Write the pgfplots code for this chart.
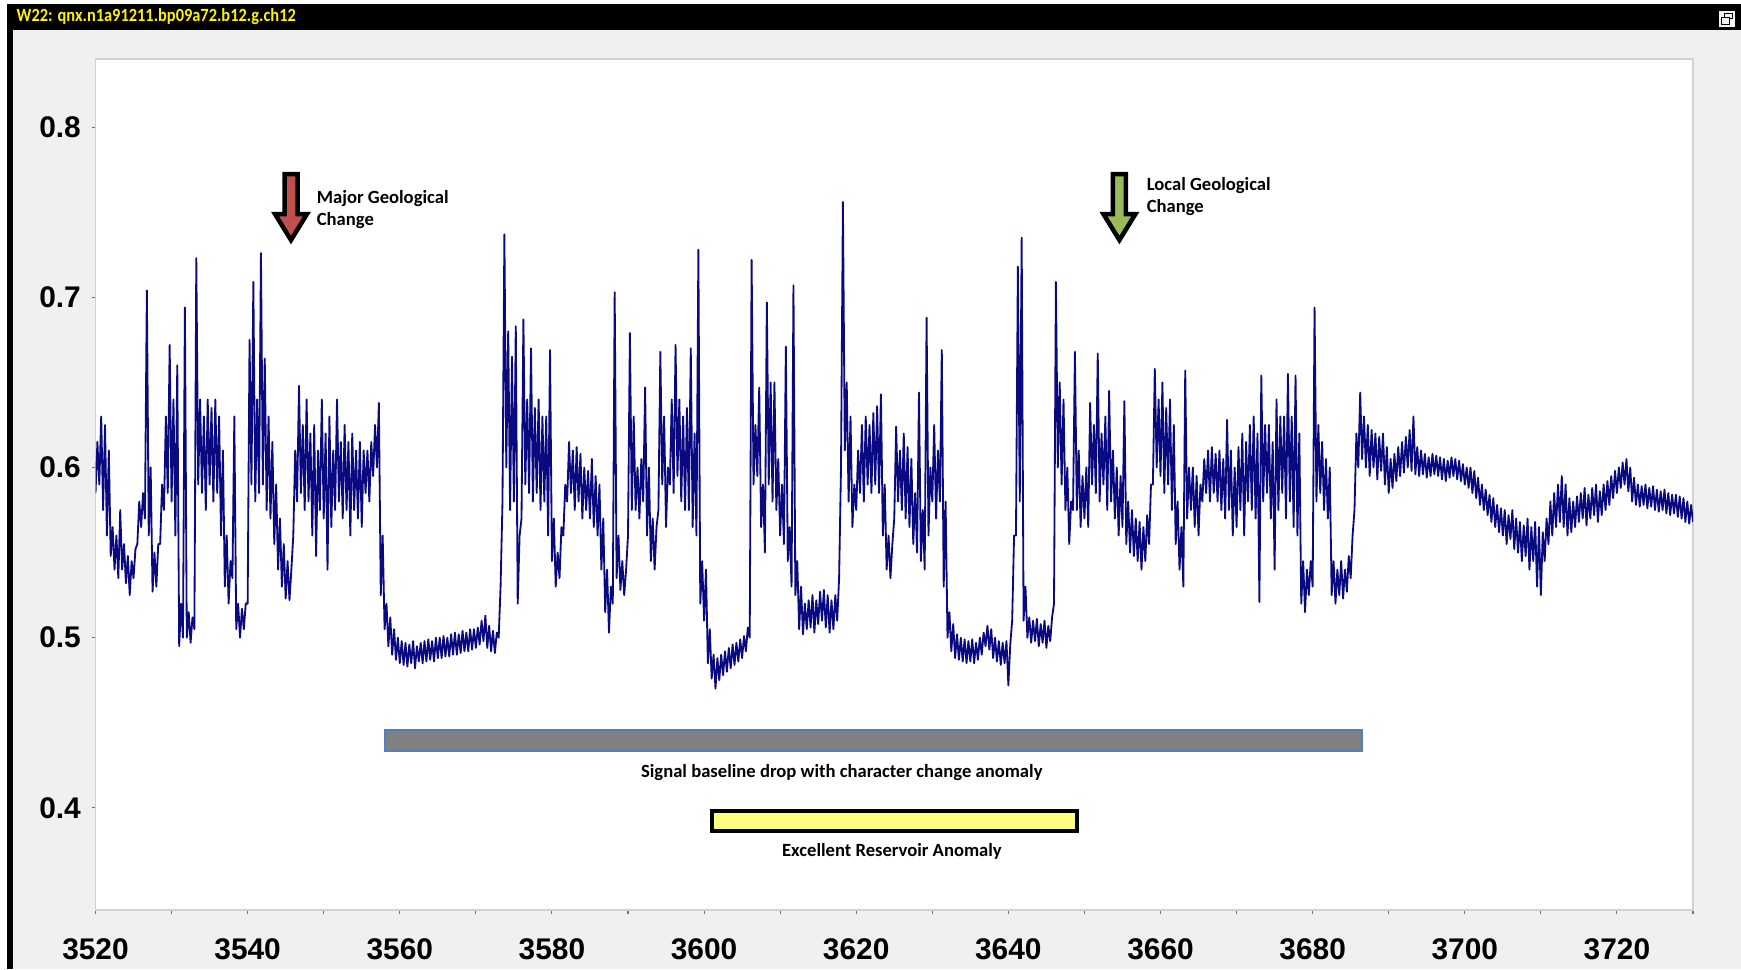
\documentclass[border=0pt]{standalone}
\usepackage{pgfplots}
\pgfplotsset{compat=1.18}
\usepackage{graphicx}
\usepackage{fontspec}
\setmainfont{Liberation Sans}
\newfontfamily\calib{Carlito}
\definecolor{trace}{RGB}{10,10,128}
\definecolor{winbg}{RGB}{240,240,240}
\definecolor{arrred}{RGB}{192,80,77}
\definecolor{arrgreen}{RGB}{155,187,89}
\definecolor{barblue}{RGB}{79,129,189}
\definecolor{barfill}{RGB}{128,128,128}
\definecolor{baryel}{RGB}{255,255,128}
\begin{document}
\begin{tikzpicture}
\path[use as bounding box] (0,0) rectangle (17.41,9.69);
\fill[white] (0,0) rectangle (17.41,9.69);
\fill[black] (0.07,0) rectangle (17.41,9.65);
\fill[winbg] (0.13,0) rectangle (17.41,9.39);
\node[anchor=west, inner sep=0pt, text=yellow] at (0.16,9.52)
  {\scalebox{0.88}[1]{\calib\bfseries\fontsize{5.3}{6}\selectfont W22: qnx.n1a91211.bp09a72.b12.g.ch12}};
% restore icon
\fill[black!5] (17.19,9.42) rectangle (17.35,9.58);
\draw[black, line width=0.25pt] (17.24,9.51) rectangle (17.32,9.56);
\draw[black, fill=black!5, line width=0.25pt] (17.21,9.45) rectangle (17.29,9.52);

\begin{axis}[
  at={(0.955cm,0.59cm)}, anchor=south west,
  width=15.975cm, height=8.51cm, scale only axis,
  xmin=3520, xmax=3730, ymin=0.34, ymax=0.84,
  axis background/.style={fill=white},
  axis line style={black!18, line width=0.4pt},
  xtick={3520,3540,...,3720}, minor xtick={3530,3550,...,3730},
  ytick={0.4,0.5,0.6,0.7,0.8},
  tick align=outside, major tick length=0.04cm, minor tick length=0.04cm,
  tick style={black!55, line width=0.3pt},
  xtick pos=left, ytick pos=left,
  ticklabel style={font=\bfseries\fontsize{8.5}{10}\selectfont},
  /pgf/number format/assume math mode=true,
  /pgf/number format/1000 sep={},
  xticklabel style={anchor=north, inner sep=0pt, yshift=-0.235cm},
  yticklabel style={anchor=east, inner sep=0pt, xshift=-0.1cm,
    /pgf/number format/fixed, /pgf/number format/fixed zerofill, /pgf/number format/precision=1},
]
\addplot[trace, line width=0.52pt, line join=round] coordinates {
(3520,.585)(3520.25,.615)(3520.5,.590)(3520.75,.630)
(3521,.575)(3521.25,.625)(3521.5,.560)(3521.75,.610)
(3522,.548)(3522.25,.565)(3522.5,.540)(3522.75,.560)
(3523,.535)(3523.25,.575)(3523.5,.540)(3523.75,.555)
(3524,.532)(3524.25,.548)(3524.5,.525)(3524.75,.545)
(3525,.535)(3525.25,.552)(3525.5,.555)(3525.75,.580)
(3526,.565)(3526.25,.585)(3526.5,.570)(3526.75,.704)
(3527,.560)(3527.25,.600)(3527.5,.527)(3527.75,.550)
(3528,.530)(3528.25,.555)(3528.5,.555)(3528.75,.590)
(3529,.575)(3529.25,.630)(3529.5,.585)(3529.75,.672)
(3530,.580)(3530.25,.640)(3530.5,.560)(3530.75,.660)
(3531,.495)(3531.25,.520)(3531.5,.500)(3531.75,.694)
(3532,.500)(3532.25,.515)(3532.5,.497)(3532.75,.512)
(3533,.505)(3533.25,.723)(3533.5,.590)(3533.75,.640)
(3534,.585)(3534.25,.630)(3534.5,.575)(3534.75,.640)
(3535,.590)(3535.25,.635)(3535.5,.580)(3535.75,.640)
(3536,.585)(3536.25,.630)(3536.5,.560)(3536.75,.610)
(3537,.530)(3537.25,.560)(3537.5,.520)(3537.75,.545)
(3538,.535)(3538.25,.630)(3538.5,.505)(3538.75,.520)
(3539,.500)(3539.25,.517)(3539.5,.505)(3539.75,.520)
(3540,.520)(3540.25,.675)(3540.5,.590)(3540.75,.709)
(3541,.580)(3541.25,.640)(3541.5,.585)(3541.75,.726)
(3542,.590)(3542.25,.664)(3542.5,.575)(3542.75,.630)
(3543,.570)(3543.25,.615)(3543.5,.555)(3543.75,.590)
(3544,.540)(3544.25,.570)(3544.5,.530)(3544.75,.555)
(3545,.523)(3545.25,.545)(3545.5,.522)(3545.75,.540)
(3546,.560)(3546.25,.610)(3546.5,.580)(3546.75,.648)
(3547,.585)(3547.25,.625)(3547.5,.575)(3547.75,.640)
(3548,.580)(3548.25,.620)(3548.5,.560)(3548.75,.625)
(3549,.548)(3549.25,.610)(3549.5,.575)(3549.75,.640)
(3550,.570)(3550.25,.620)(3550.5,.540)(3550.75,.630)
(3551,.565)(3551.25,.610)(3551.5,.575)(3551.75,.640)
(3552,.580)(3552.25,.615)(3552.5,.570)(3552.75,.625)
(3553,.575)(3553.25,.615)(3553.5,.560)(3553.75,.620)
(3554,.575)(3554.25,.610)(3554.5,.570)(3554.75,.615)
(3555,.565)(3555.25,.610)(3555.5,.585)(3555.75,.610)
(3556,.580)(3556.25,.615)(3556.5,.595)(3556.75,.625)
(3557,.600)(3557.25,.638)(3557.5,.525)(3557.75,.560)
(3558,.505)(3558.25,.520)(3558.5,.495)(3558.75,.512)
(3559,.490)(3559.25,.505)(3559.5,.487)(3559.75,.500)
(3560,.485)(3560.25,.498)(3560.5,.484)(3560.75,.497)
(3561,.483)(3561.25,.496)(3561.5,.485)(3561.75,.498)
(3562,.482)(3562.25,.495)(3562.5,.486)(3562.75,.497)
(3563,.485)(3563.25,.498)(3563.5,.486)(3563.75,.499)
(3564,.487)(3564.25,.498)(3564.5,.486)(3564.75,.500)
(3565,.488)(3565.25,.500)(3565.5,.488)(3565.75,.501)
(3566,.489)(3566.25,.500)(3566.5,.489)(3566.75,.502)
(3567,.490)(3567.25,.503)(3567.5,.490)(3567.75,.502)
(3568,.491)(3568.25,.504)(3568.5,.492)(3568.75,.503)
(3569,.492)(3569.25,.505)(3569.5,.493)(3569.75,.505)
(3570,.494)(3570.25,.506)(3570.5,.496)(3570.75,.510)
(3571,.498)(3571.25,.513)(3571.5,.494)(3571.75,.507)
(3572,.492)(3572.25,.504)(3572.5,.491)(3572.75,.503)
(3573,.500)(3573.25,.530)(3573.5,.580)(3573.75,.737)
(3574,.600)(3574.25,.680)(3574.5,.575)(3574.75,.665)
(3575,.580)(3575.25,.683)(3575.5,.520)(3575.75,.560)
(3576,.570)(3576.25,.687)(3576.5,.590)(3576.75,.640)
(3577,.585)(3577.25,.670)(3577.5,.580)(3577.75,.635)
(3578,.585)(3578.25,.640)(3578.5,.575)(3578.75,.630)
(3579,.580)(3579.25,.630)(3579.5,.560)(3579.75,.669)
(3580,.545)(3580.25,.570)(3580.5,.530)(3580.75,.550)
(3581,.535)(3581.25,.565)(3581.5,.560)(3581.75,.590)
(3582,.580)(3582.25,.615)(3582.5,.585)(3582.75,.610)
(3583,.575)(3583.25,.612)(3583.5,.580)(3583.75,.608)
(3584,.570)(3584.25,.600)(3584.5,.575)(3584.75,.598)
(3585,.570)(3585.25,.605)(3585.5,.565)(3585.75,.595)
(3586,.560)(3586.25,.590)(3586.5,.540)(3586.75,.570)
(3587,.515)(3587.25,.540)(3587.5,.503)(3587.75,.530)
(3588,.520)(3588.25,.703)(3588.5,.535)(3588.75,.560)
(3589,.528)(3589.25,.545)(3589.5,.525)(3589.75,.540)
(3590,.560)(3590.25,.679)(3590.5,.575)(3590.75,.630)
(3591,.575)(3591.25,.600)(3591.5,.570)(3591.75,.605)
(3592,.580)(3592.25,.647)(3592.5,.560)(3592.75,.600)
(3593,.545)(3593.25,.570)(3593.5,.540)(3593.75,.565)
(3594,.575)(3594.25,.668)(3594.5,.590)(3594.75,.630)
(3595,.565)(3595.25,.600)(3595.5,.590)(3595.75,.640)
(3596,.585)(3596.25,.672)(3596.5,.595)(3596.75,.640)
(3597,.580)(3597.25,.630)(3597.5,.575)(3597.75,.635)
(3598,.575)(3598.25,.670)(3598.5,.565)(3598.75,.620)
(3599,.560)(3599.25,.728)(3599.5,.520)(3599.75,.545)
(3600,.510)(3600.25,.540)(3600.5,.485)(3600.75,.505)
(3601,.476)(3601.25,.490)(3601.5,.470)(3601.75,.488)
(3602,.475)(3602.25,.490)(3602.5,.478)(3602.75,.492)
(3603,.480)(3603.25,.494)(3603.5,.482)(3603.75,.496)
(3604,.484)(3604.25,.497)(3604.5,.486)(3604.75,.499)
(3605,.488)(3605.25,.501)(3605.5,.492)(3605.75,.506)
(3606,.500)(3606.25,.722)(3606.5,.590)(3606.75,.625)
(3607,.595)(3607.25,.647)(3607.5,.565)(3607.75,.590)
(3608,.550)(3608.25,.697)(3608.5,.590)(3608.75,.650)
(3609,.580)(3609.25,.650)(3609.5,.575)(3609.75,.605)
(3610,.560)(3610.25,.590)(3610.5,.555)(3610.75,.671)
(3611,.545)(3611.25,.565)(3611.5,.530)(3611.75,.707)
(3612,.525)(3612.25,.545)(3612.5,.505)(3612.75,.530)
(3613,.502)(3613.25,.520)(3613.5,.505)(3613.75,.522)
(3614,.506)(3614.25,.525)(3614.5,.503)(3614.75,.522)
(3615,.508)(3615.25,.527)(3615.5,.510)(3615.75,.528)
(3616,.506)(3616.25,.525)(3616.5,.503)(3616.75,.522)
(3617,.505)(3617.25,.525)(3617.5,.510)(3617.75,.535)
(3618,.600)(3618.25,.756)(3618.5,.610)(3618.75,.650)
(3619,.580)(3619.25,.630)(3619.5,.565)(3619.75,.590)
(3620,.575)(3620.25,.610)(3620.5,.585)(3620.75,.625)
(3621,.580)(3621.25,.630)(3621.5,.590)(3621.75,.625)
(3622,.585)(3622.25,.632)(3622.5,.590)(3622.75,.636)
(3623,.585)(3623.25,.643)(3623.5,.560)(3623.75,.590)
(3624,.540)(3624.25,.560)(3624.5,.535)(3624.75,.555)
(3625,.570)(3625.25,.624)(3625.5,.580)(3625.75,.610)
(3626,.575)(3626.25,.620)(3626.5,.570)(3626.75,.612)
(3627,.565)(3627.25,.605)(3627.5,.555)(3627.75,.585)
(3628,.550)(3628.25,.644)(3628.5,.545)(3628.75,.575)
(3629,.540)(3629.25,.688)(3629.5,.560)(3629.75,.600)
(3630,.580)(3630.25,.625)(3630.5,.570)(3630.75,.610)
(3631,.580)(3631.25,.669)(3631.5,.530)(3631.75,.580)
(3632,.500)(3632.25,.515)(3632.5,.492)(3632.75,.508)
(3633,.488)(3633.25,.502)(3633.5,.487)(3633.75,.500)
(3634,.486)(3634.25,.499)(3634.5,.485)(3634.75,.498)
(3635,.486)(3635.25,.499)(3635.5,.485)(3635.75,.497)
(3636,.487)(3636.25,.500)(3636.5,.490)(3636.75,.503)
(3637,.495)(3637.25,.507)(3637.5,.493)(3637.75,.505)
(3638,.488)(3638.25,.500)(3638.5,.486)(3638.75,.498)
(3639,.484)(3639.25,.497)(3639.5,.485)(3639.75,.498)
(3640,.472)(3640.25,.496)(3640.5,.510)(3640.75,.560)
(3641,.560)(3641.25,.718)(3641.5,.580)(3641.75,.735)
(3642,.510)(3642.25,.530)(3642.5,.500)(3642.75,.512)
(3643,.497)(3643.25,.510)(3643.5,.498)(3643.75,.511)
(3644,.495)(3644.25,.508)(3644.5,.497)(3644.75,.510)
(3645,.494)(3645.25,.507)(3645.5,.498)(3645.75,.512)
(3646,.520)(3646.25,.709)(3646.5,.600)(3646.75,.650)
(3647,.590)(3647.25,.640)(3647.5,.575)(3647.75,.600)
(3648,.555)(3648.25,.580)(3648.5,.575)(3648.75,.668)
(3649,.575)(3649.25,.610)(3649.5,.565)(3649.75,.595)
(3650,.570)(3650.25,.600)(3650.5,.565)(3650.75,.638)
(3651,.590)(3651.25,.625)(3651.5,.585)(3651.75,.667)
(3652,.580)(3652.25,.620)(3652.5,.590)(3652.75,.630)
(3653,.575)(3653.25,.645)(3653.5,.580)(3653.75,.610)
(3654,.570)(3654.25,.600)(3654.5,.560)(3654.75,.595)
(3655,.565)(3655.25,.639)(3655.5,.555)(3655.75,.580)
(3656,.550)(3656.25,.575)(3656.5,.548)(3656.75,.570)
(3657,.545)(3657.25,.568)(3657.5,.540)(3657.75,.565)
(3658,.545)(3658.25,.572)(3658.5,.555)(3658.75,.590)
(3659,.590)(3659.25,.658)(3659.5,.600)(3659.75,.640)
(3660,.595)(3660.25,.650)(3660.5,.585)(3660.75,.635)
(3661,.590)(3661.25,.640)(3661.5,.575)(3661.75,.625)
(3662,.555)(3662.25,.580)(3662.5,.540)(3662.75,.565)
(3663,.530)(3663.25,.657)(3663.5,.570)(3663.75,.600)
(3664,.575)(3664.25,.600)(3664.5,.565)(3664.75,.595)
(3665,.560)(3665.25,.590)(3665.5,.580)(3665.75,.605)
(3666,.585)(3666.25,.610)(3666.5,.580)(3666.75,.612)
(3667,.585)(3667.25,.608)(3667.5,.580)(3667.75,.610)
(3668,.575)(3668.25,.605)(3668.5,.570)(3668.75,.628)
(3669,.575)(3669.25,.610)(3669.5,.560)(3669.75,.600)
(3670,.565)(3670.25,.612)(3670.5,.575)(3670.75,.620)
(3671,.560)(3671.25,.615)(3671.5,.580)(3671.75,.625)
(3672,.575)(3672.25,.630)(3672.5,.570)(3672.75,.620)
(3673,.521)(3673.25,.654)(3673.5,.580)(3673.75,.625)
(3674,.585)(3674.25,.625)(3674.5,.570)(3674.75,.615)
(3675,.540)(3675.25,.640)(3675.5,.575)(3675.75,.630)
(3676,.585)(3676.25,.630)(3676.5,.570)(3676.75,.655)
(3677,.580)(3677.25,.630)(3677.5,.565)(3677.75,.654)
(3678,.560)(3678.25,.620)(3678.5,.520)(3678.75,.545)
(3679,.515)(3679.25,.540)(3679.5,.525)(3679.75,.545)
(3680,.530)(3680.25,.694)(3680.5,.580)(3680.75,.625)
(3681,.585)(3681.25,.615)(3681.5,.575)(3681.75,.605)
(3682,.570)(3682.25,.600)(3682.5,.525)(3682.75,.545)
(3683,.520)(3683.25,.540)(3683.5,.525)(3683.75,.545)
(3684,.523)(3684.25,.540)(3684.5,.527)(3684.75,.548)
(3685,.535)(3685.25,.560)(3685.5,.575)(3685.75,.620)
(3686,.600)(3686.25,.644)(3686.5,.605)(3686.75,.630)
(3687,.600)(3687.25,.625)(3687.5,.595)(3687.75,.622)
(3688,.600)(3688.25,.620)(3688.5,.593)(3688.75,.618)
(3689,.598)(3689.25,.620)(3689.5,.590)(3689.75,.612)
(3690,.585)(3690.25,.605)(3690.5,.588)(3690.75,.608)
(3691,.592)(3691.25,.612)(3691.5,.595)(3691.75,.615)
(3692,.597)(3692.25,.618)(3692.5,.600)(3692.75,.622)
(3693,.598)(3693.25,.630)(3693.5,.596)(3693.75,.612)
(3694,.595)(3694.25,.610)(3694.5,.596)(3694.75,.608)
(3695,.594)(3695.25,.606)(3695.5,.595)(3695.75,.608)
(3696,.596)(3696.25,.607)(3696.5,.595)(3696.75,.606)
(3697,.593)(3697.25,.605)(3697.5,.592)(3697.75,.604)
(3698,.594)(3698.25,.606)(3698.5,.595)(3698.75,.605)
(3699,.593)(3699.25,.604)(3699.5,.592)(3699.75,.602)
(3700,.590)(3700.25,.600)(3700.5,.588)(3700.75,.600)
(3701,.585)(3701.25,.598)(3701.5,.582)(3701.75,.594)
(3702,.578)(3702.25,.590)(3702.5,.575)(3702.75,.587)
(3703,.572)(3703.25,.584)(3703.5,.568)(3703.75,.582)
(3704,.565)(3704.25,.578)(3704.5,.562)(3704.75,.576)
(3705,.560)(3705.25,.575)(3705.5,.555)(3705.75,.572)
(3706,.558)(3706.25,.575)(3706.5,.552)(3706.75,.570)
(3707,.550)(3707.25,.568)(3707.5,.545)(3707.75,.566)
(3708,.548)(3708.25,.570)(3708.5,.540)(3708.75,.565)
(3709,.545)(3709.25,.568)(3709.5,.530)(3709.75,.565)
(3710,.525)(3710.25,.562)(3710.5,.545)(3710.75,.570)
(3711,.555)(3711.25,.580)(3711.5,.560)(3711.75,.585)
(3712,.565)(3712.25,.590)(3712.5,.568)(3712.75,.595)
(3713,.565)(3713.25,.590)(3713.5,.560)(3713.75,.582)
(3714,.562)(3714.25,.580)(3714.5,.565)(3714.75,.583)
(3715,.568)(3715.25,.585)(3715.5,.570)(3715.75,.588)
(3716,.566)(3716.25,.584)(3716.5,.570)(3716.75,.588)
(3717,.572)(3717.25,.590)(3717.5,.568)(3717.75,.586)
(3718,.572)(3718.25,.590)(3718.5,.575)(3718.75,.592)
(3719,.578)(3719.25,.595)(3719.5,.582)(3719.75,.598)
(3720,.585)(3720.25,.600)(3720.5,.588)(3720.75,.603)
(3721,.590)(3721.25,.605)(3721.5,.586)(3721.75,.600)
(3722,.580)(3722.25,.594)(3722.5,.578)(3722.75,.590)
(3723,.577)(3723.25,.589)(3723.5,.578)(3723.75,.590)
(3724,.576)(3724.25,.588)(3724.5,.577)(3724.75,.589)
(3725,.575)(3725.25,.587)(3725.5,.574)(3725.75,.586)
(3726,.575)(3726.25,.587)(3726.5,.573)(3726.75,.585)
(3727,.572)(3727.25,.584)(3727.5,.573)(3727.75,.584)
(3728,.571)(3728.25,.583)(3728.5,.570)(3728.75,.582)
(3729,.568)(3729.25,.580)(3729.5,.567)(3729.75,.578)
(3730,.568)
};
% anchor points for the annotations
\coordinate (redarr) at (axis cs:3545.7,0.7736);
\coordinate (grnarr) at (axis cs:3654.6,0.7736);
\coordinate (majtxt) at (axis cs:3549.0,0.7630);
\coordinate (loctxt) at (axis cs:3658.1,0.7710);
\coordinate (gbarA) at (axis cs:3558.0,0.4335);
\coordinate (gbarB) at (axis cs:3686.5,0.4458);
\coordinate (glab) at (axis cs:3618.1,0.4209);
\coordinate (ybarA) at (axis cs:3601.1,0.3864);
\coordinate (ybarB) at (axis cs:3649.0,0.3981);
\coordinate (ylab) at (axis cs:3624.7,0.3745);
\end{axis}

% arrows
\draw[fill=arrred, line width=0.045cm, line join=miter]
  (redarr) ++(-0.065cm,-0.02cm) -- ++(0.13cm,0cm) -- ++(0cm,-0.40cm) -- ++(0.095cm,0cm)
  -- ++(-0.16cm,-0.26cm) -- ++(-0.16cm,0.26cm) -- ++(0.095cm,0cm) -- cycle;
\draw[fill=arrgreen, line width=0.045cm, line join=miter]
  (grnarr) ++(-0.065cm,-0.02cm) -- ++(0.13cm,0cm) -- ++(0cm,-0.40cm) -- ++(0.095cm,0cm)
  -- ++(-0.16cm,-0.26cm) -- ++(-0.16cm,0.26cm) -- ++(0.095cm,0cm) -- cycle;
\tikzset{ann/.style={inner sep=0pt, font=\calib\bfseries\fontsize{5.3}{6.3}\selectfont}}
\node[ann, anchor=north west, align=left] at (majtxt) {Major Geological\\Change};
\node[ann, anchor=north west, align=left] at (loctxt) {Local Geological\\Change};

% bars
\draw[fill=barfill, draw=barblue, line width=0.02cm] (gbarA) rectangle (gbarB);
\node[ann] at (glab) {Signal baseline drop with character change anomaly};
\draw[fill=baryel, draw=black, line width=0.04cm] (ybarA) rectangle (ybarB);
\node[ann] at (ylab) {Excellent Reservoir Anomaly};
\end{tikzpicture}
\end{document}
